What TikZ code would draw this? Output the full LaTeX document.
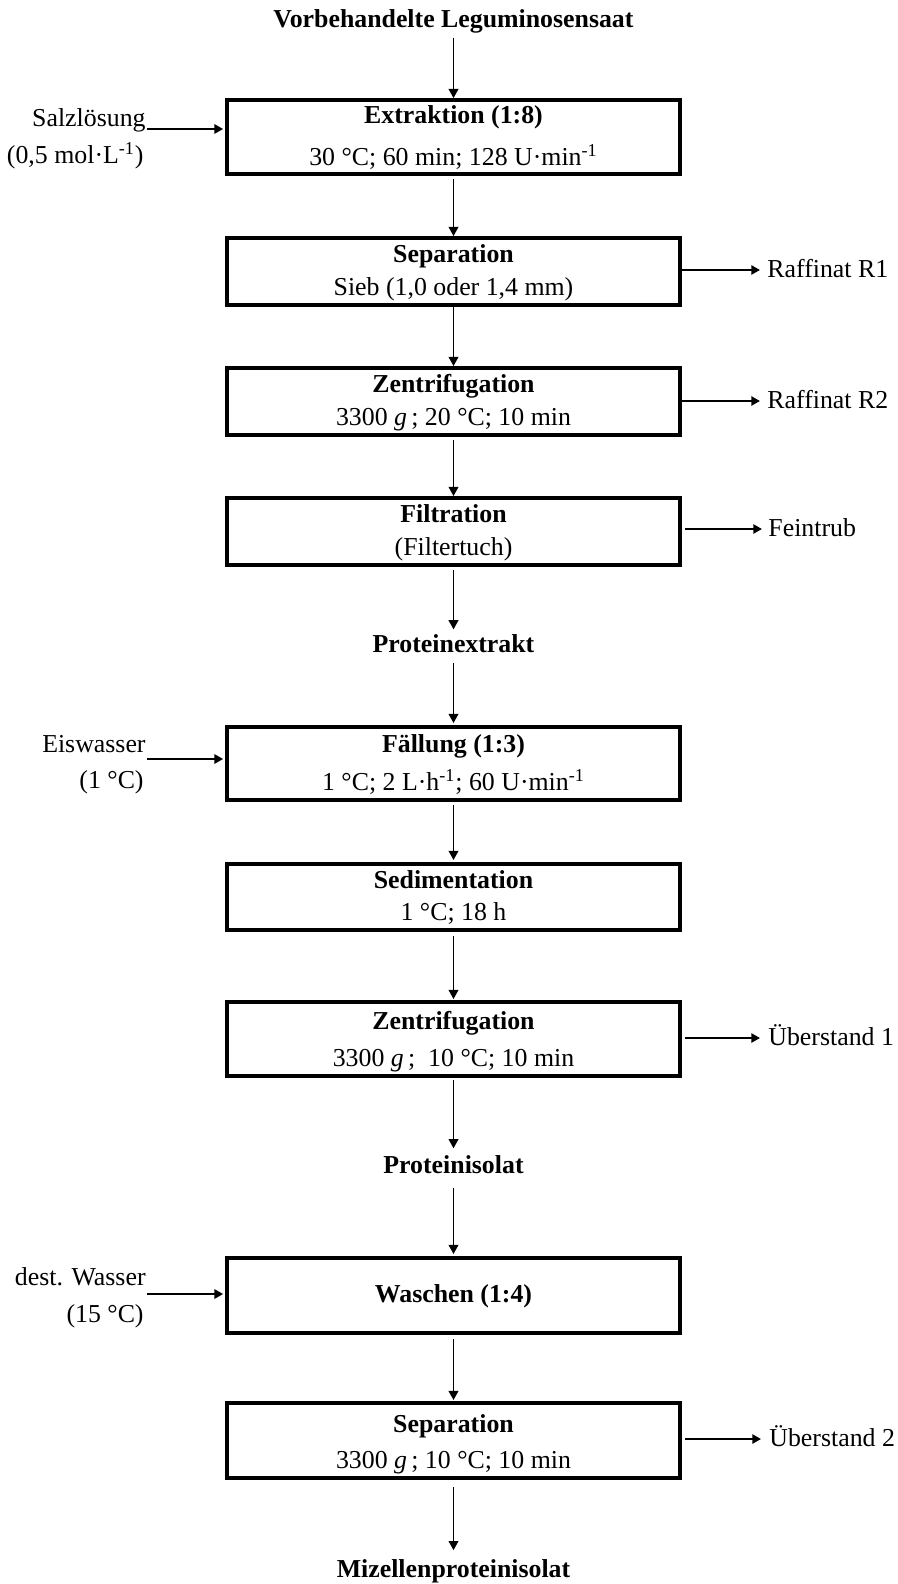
\documentclass[tikz,border=0pt]{standalone}
\usepackage{fontspec}
\setmainfont{Liberation Serif}
\usetikzlibrary{arrows.meta}
\begin{document}
\begin{tikzpicture}[x=0.48pt,y=-0.48pt,
  box/.style={draw, line width=1.8pt, minimum width=217.5pt, inner sep=0pt, rectangle},
  txt/.style={inner sep=0pt, text height=8pt, text depth=2.5pt, font=\fontsize{12.4}{14}\selectfont},
  varr/.style={line width=0.85pt, -{Triangle[length=4.4pt,width=4.6pt]}},
  sarr/.style={line width=1.1pt, -{Triangle[length=4.2pt,width=4.4pt]}}]
\useasboundingbox (0,0) rectangle (897,1584);

% main stream titles
\node[txt] (t0) at (453.5,22) {\textbf{Vorbehandelte Leguminosensaat}};
\node[txt] (t1) at (453.5,647) {\textbf{Proteinextrakt}};
\node[txt] (t2) at (453.5,1168) {\textbf{Proteinisolat}};
\node[txt] (t3) at (453.5,1572) {\textbf{Mizellenproteinisolat}};

% boxes
\node[box, minimum height=35.5pt] (ext) at (453.5,137) {};
\node[box, minimum height=32.2pt] (sep) at (453.5,271.5) {};
\node[box, minimum height=32.2pt] (zen) at (453.5,401.5) {};
\node[box, minimum height=32.2pt] (fil) at (453.5,531.5) {};
\node[box, minimum height=35pt] (fal) at (453.5,763.5) {};
\node[box, minimum height=31.7pt] (sed) at (453.5,897) {};
\node[box, minimum height=35.5pt] (zen2) at (453.5,1039) {};
\node[box, minimum height=36pt] (wa) at (453.5,1295.5) {};
\node[box, minimum height=36pt] (sep2) at (453.5,1440.5) {};

% box texts
\node[txt] (ext1) at (453.5,118) {\textbf{Extraktion (1:8)}};
\node[txt] (ext2) at (453.5,160) {30 °C; 60 min; 128 U·min\textsuperscript{-1}};
\node[txt] (sep1) at (453.5,257) {\textbf{Separation}};
\node[txt] (sepb) at (453.5,290) {Sieb (1,0 oder 1,4 mm)};
\node[txt] (zen1) at (453.5,387) {\textbf{Zentrifugation}};
\node[txt] (zenb) at (453.5,420) {3300 \textit{g}\,; 20 °C; 10 min};
\node[txt] (fil1) at (453.5,517) {\textbf{Filtration}};
\node[txt] (filb) at (453.5,550) {(Filtertuch)};
\node[txt] (fal1) at (453.5,747) {\textbf{Fällung (1:3)}};
\node[txt] (falb) at (453.5,785) {1 °C; 2 L·h\textsuperscript{-1}; 60 U·min\textsuperscript{-1}};
\node[txt] (sed1) at (453.5,883) {\textbf{Sedimentation}};
\node[txt] (sedb) at (453.5,915) {1 °C; 18 h};
\node[txt] (zent1) at (453.5,1024) {\textbf{Zentrifugation}};
\node[txt] (zentb) at (453.5,1061) {3300 \textit{g}\,; \ 10 °C; 10 min};
\node[txt] (wa1) at (453.5,1297) {\textbf{Waschen (1:4)}};
\node[txt] (sepc) at (453.5,1427) {\textbf{Separation}};
\node[txt] (sepd) at (453.5,1463) {3300 \textit{g}\,; 10 °C; 10 min};

% main arrows
\draw[varr, shorten <=2pt] (t0) -- (ext);
\draw[varr, shorten <=1.5pt] (ext) -- (sep);
\draw[varr] (sep) -- (zen);
\draw[varr, shorten <=1.5pt] (zen) -- (fil);
\draw[varr, shorten <=1.5pt, shorten >=3pt] (fil) -- (t1);
\draw[varr, shorten <=2pt, shorten >=1pt] (t1) -- (fal);
\draw[varr, shorten <=1.5pt, shorten >=1pt] (fal) -- (sed);
\draw[varr, shorten <=2pt, shorten >=0.5pt] (sed) -- (zen2);
\draw[varr, shorten <=1pt, shorten >=4pt] (zen2) -- (t2);
\draw[varr, shorten <=4pt, shorten >=1pt] (t2) -- (wa);
\draw[varr, shorten <=2pt, shorten >=0.5pt] (wa) -- (sep2);
\draw[varr, shorten <=3.5pt, shorten >=5pt] (sep2) -- (t3);

% left inputs
\node[txt, anchor=east] (salz) at (146,121) {Salzlösung};
\node[txt, anchor=east] (salzb) at (144,158) {(0,5 mol·L\textsuperscript{-1})};
\coordinate (salzA) at (147,129);
\draw[sarr, shorten >=0.9pt] (salzA) -- (salzA -| ext.west);

\node[txt, anchor=east] (eis) at (146,747) {Eiswasser};
\node[txt, anchor=east] (eisb) at (144,783) {(1 °C)};
\coordinate (eisA) at (147,759);
\draw[sarr, shorten >=0.9pt] (eisA) -- (eisA -| fal.west);

\node[txt, anchor=east] (dw) at (146,1280) {dest. Wasser};
\node[txt, anchor=east] (dwb) at (144,1317) {(15 °C)};
\coordinate (dwA) at (147,1294);
\draw[sarr, shorten >=0.9pt] (dwA) -- (dwA -| wa.west);

% right outputs
\coordinate (r1A) at (760,270);
\node[txt, anchor=west] (r1) at (767,272) {Raffinat R1};
\draw[sarr] (r1A -| sep.east) -- (r1A);

\coordinate (r2A) at (760,401);
\node[txt, anchor=west] (r2) at (767,403) {Raffinat R2};
\draw[sarr] (r2A -| zen.east) -- (r2A);

\coordinate (ftA) at (762,529);
\node[txt, anchor=west] (ft) at (768,531) {Feintrub};
\draw[sarr, shorten <=1.5pt] (ftA -| fil.east) -- (ftA);

\coordinate (u1A) at (760,1038);
\node[txt, anchor=west] (u1) at (768,1040) {Überstand 1};
\draw[sarr, shorten <=1.5pt] (u1A -| zen2.east) -- (u1A);

\coordinate (u2A) at (761,1439);
\node[txt, anchor=west] (u2) at (769,1441) {Überstand 2};
\draw[sarr, shorten <=1.5pt] (u2A -| sep2.east) -- (u2A);
\end{tikzpicture}
\end{document}
